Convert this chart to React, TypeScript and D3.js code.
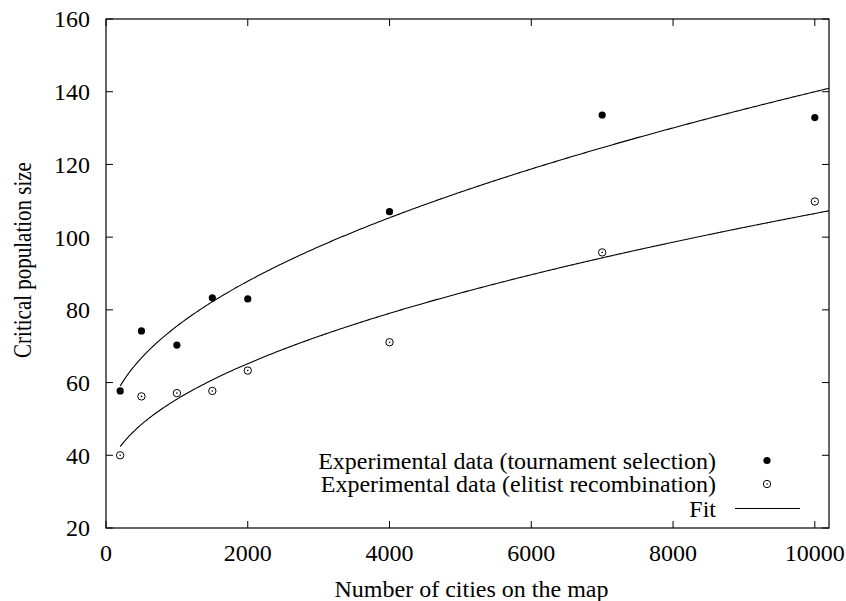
import React from "react";
import * as d3 from "d3";

const cities = [200, 500, 1000, 1500, 2000, 4000, 7000, 10000];
const tournament = [57.7, 74.2, 70.3, 83.3, 83.0, 107.0, 133.6, 132.9];
const elitist = [40.0, 56.2, 57.1, 57.7, 63.3, 71.1, 95.8, 109.8];
// Fit curves: y = a + b * sqrt(x)
const fitTournament = { a: 45.7, b: 0.943 };
const fitElitist = { a: 31.8, b: 0.747 };
const xTicks = [0, 2000, 4000, 6000, 8000, 10000];
const yTicks = [20, 40, 60, 80, 100, 120, 140, 160];
const legendLabels = [
  "Experimental data (tournament selection)",
  "Experimental data (elitist recombination)",
  "Fit",
];

const W = 846;
const H = 601;
const M = { left: 106, right: 829, top: 19, bottom: 528 };
const FONT = "'Liberation Serif', 'Times New Roman', serif";

export default function App() {
  const x = d3.scaleLinear().domain([0, 10200]).range([M.left, M.right]);
  const y = d3.scaleLinear().domain([20, 160]).range([M.bottom, M.top]);
  const line = d3.line<number>().x((d) => x(d));
  const fitXs = d3.range(200, 10201, 25);
  const fitPath = (p: { a: number; b: number }) =>
    line.y((d) => y(p.a + p.b * Math.sqrt(d)))(fitXs) || "";
  const tick = 7;
  const fs = 24;
  const legX = 716;
  const legY = [460.5, 484, 508.5];
  return (
    <svg
      width={W}
      height={H}
      style={{ position: "absolute", left: 0, top: 0, background: "#fff" }}
      fontFamily={FONT}
    >
      <rect x={0} y={0} width={W} height={H} fill="#fff" />
      <g stroke="#000" strokeWidth={1}>
        {xTicks.map((t) => (
          <g key={"xt" + t}>
            <line x1={x(t)} x2={x(t)} y1={M.bottom} y2={M.bottom - tick} />
            <line x1={x(t)} x2={x(t)} y1={M.top} y2={M.top + tick} />
          </g>
        ))}
        {yTicks.map((t) => (
          <g key={"yt" + t}>
            <line x1={M.left} x2={M.left + tick} y1={y(t)} y2={y(t)} />
            <line x1={M.right} x2={M.right - tick} y1={y(t)} y2={y(t)} />
          </g>
        ))}
      </g>
      <rect
        x={M.left}
        y={M.top}
        width={M.right - M.left}
        height={M.bottom - M.top}
        fill="none"
        stroke="#000"
        strokeWidth={1.2}
      />
      {xTicks.map((t) => (
        <text key={"xl" + t} x={x(t)} y={561} fontSize={fs} textAnchor="middle">
          {t}
        </text>
      ))}
      {yTicks.map((t) => (
        <text
          key={"yl" + t}
          x={90}
          y={y(t)}
          dy="0.35em"
          fontSize={fs}
          textAnchor="end"
        >
          {t}
        </text>
      ))}
      <text x={(M.left + M.right) / 2 + 4} y={597} fontSize={fs} textAnchor="middle">
        Number of cities on the map
      </text>
      <text
        transform={`translate(31,260) rotate(-90) scale(1,1.15)`}
        fontSize={21}
        textAnchor="middle"
      >
        Critical population size
      </text>
      <path d={fitPath(fitTournament)} fill="none" stroke="#000" strokeWidth={1.1} />
      <path d={fitPath(fitElitist)} fill="none" stroke="#000" strokeWidth={1.1} />
      {cities.map((c, i) => (
        <circle key={"t" + c} cx={x(c)} cy={y(tournament[i])} r={3.6} fill="#000" />
      ))}
      {cities.map((c, i) => (
        <g key={"e" + c}>
          <circle cx={x(c)} cy={y(elitist[i])} r={3.7} fill="#fff" stroke="#000" strokeWidth={1} />
          <circle cx={x(c)} cy={y(elitist[i])} r={0.8} fill="#000" />
        </g>
      ))}
      {legendLabels.map((l, i) => (
        <text key={l} x={legX} y={legY[i]} dy="0.35em" fontSize={fs} textAnchor="end">
          {l}
        </text>
      ))}
      <circle cx={767} cy={legY[0]} r={3.6} fill="#000" />
      <circle cx={767} cy={legY[1]} r={3.7} fill="#fff" stroke="#000" strokeWidth={1} />
      <circle cx={767} cy={legY[1]} r={0.8} fill="#000" />
      <line x1={735} x2={800} y1={legY[2]} y2={legY[2]} stroke="#000" strokeWidth={1.1} />
    </svg>
  );
}
